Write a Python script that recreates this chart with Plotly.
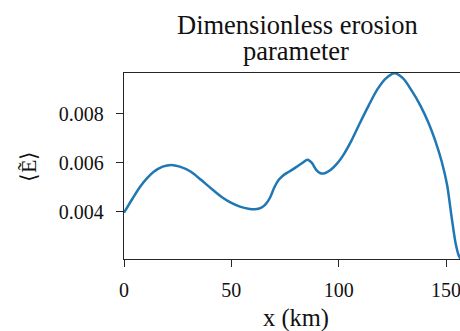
import plotly.graph_objects as go

# Along-profile distance (km) and mean dimensionless erosion parameter
x_km = [0, 4, 7.5, 11, 14, 18, 22, 26, 31, 36, 41, 46, 50, 54, 58, 61, 64, 66,
        68, 70, 72, 74, 77, 80, 83, 85.5, 87.5, 89.5, 91.5, 93.5, 96, 99, 102,
        106, 110, 114, 118, 122, 126, 130, 134, 138, 142, 145, 148, 150.5,
        152.5, 154.5, 156, 157]
e_mean = [0.00397, 0.00455, 0.00503, 0.00540, 0.00565, 0.00585, 0.00592,
          0.00585, 0.00565, 0.00530, 0.00493, 0.00458, 0.00437, 0.00422,
          0.00413, 0.00411, 0.00418, 0.00432, 0.00458, 0.00500, 0.00530,
          0.00548, 0.00565, 0.00582, 0.00600, 0.00613, 0.00600, 0.00572,
          0.00558, 0.00558, 0.00570, 0.00595, 0.00630, 0.00692, 0.00765,
          0.00835, 0.00900, 0.00945, 0.00966, 0.00945, 0.00895, 0.00835,
          0.00760, 0.00690, 0.00605, 0.00510, 0.00385, 0.00270, 0.00220,
          0.00205]

x_ticks = [0, 50, 100, 150]
y_ticks = [0.004, 0.006, 0.008]
y_tick_text = ["0.004", "0.006", "0.008"]

W, H = 460, 331
L, T, B = 124, 73, 72
plot_h = H - T - B

FONT = "Liberation Serif"
AX = "#262626"


def py(y_px):
    """Pixel row -> paper y coordinate."""
    return (H - B - y_px) / plot_h


def px(x_px):
    """Pixel column -> paper x coordinate."""
    return (x_px - L) / (W - L)


fig = go.Figure()
fig.add_trace(go.Scatter(
    x=x_km, y=e_mean, mode="lines",
    line=dict(color="#1f77b4", width=2.5, shape="spline", smoothing=0.8),
    showlegend=False, hoverinfo="skip",
))

fig.update_layout(
    width=W, height=H,
    margin=dict(l=L, r=0, t=T, b=B),
    paper_bgcolor="white", plot_bgcolor="white",
    font=dict(family=FONT, color="black"),
    xaxis=dict(
        range=[0, 156.5], tickvals=x_ticks, ticktext=[str(v) for v in x_ticks],
        showgrid=False, zeroline=False,
        showline=True, mirror=True, linecolor=AX, linewidth=1.4,
        ticks="outside", ticklen=7, tickwidth=1.4, tickcolor=AX,
        tickfont=dict(family=FONT, size=20, color="#111"),
        ticklabelstandoff=6, ticklabeloverflow="allow",
    ),
    yaxis=dict(
        range=[0.00208, 0.00967], tickvals=y_ticks, ticktext=y_tick_text,
        showgrid=False, zeroline=False,
        showline=True, mirror=False, linecolor=AX, linewidth=1.4,
        ticks="outside", ticklen=7, tickwidth=1.4, tickcolor=AX,
        tickfont=dict(family=FONT, size=20, color="#111"),
        ticklabelstandoff=8,
    ),
    annotations=[
        dict(text="Dimensionless erosion", x=px(297), y=py(25),
             xref="paper", yref="paper", showarrow=False,
             xanchor="center", yanchor="middle",
             font=dict(family=FONT, size=26.5, color="#111")),
        dict(text="parameter", x=px(296), y=py(51),
             xref="paper", yref="paper", showarrow=False,
             xanchor="center", yanchor="middle",
             font=dict(family=FONT, size=26.5, color="#111")),
        dict(text="x (km)", x=px(296), y=py(318),
             xref="paper", yref="paper", showarrow=False,
             xanchor="center", yanchor="middle",
             font=dict(family=FONT, size=24.5, color="#111")),
        dict(text="⟨Ẽ⟩", x=px(28), y=py(167),
             xref="paper", yref="paper", showarrow=False,
             xanchor="center", yanchor="middle", textangle=-90,
             font=dict(family=FONT, size=22, color="#111")),
    ],
)

fig.write_html("out.html")
